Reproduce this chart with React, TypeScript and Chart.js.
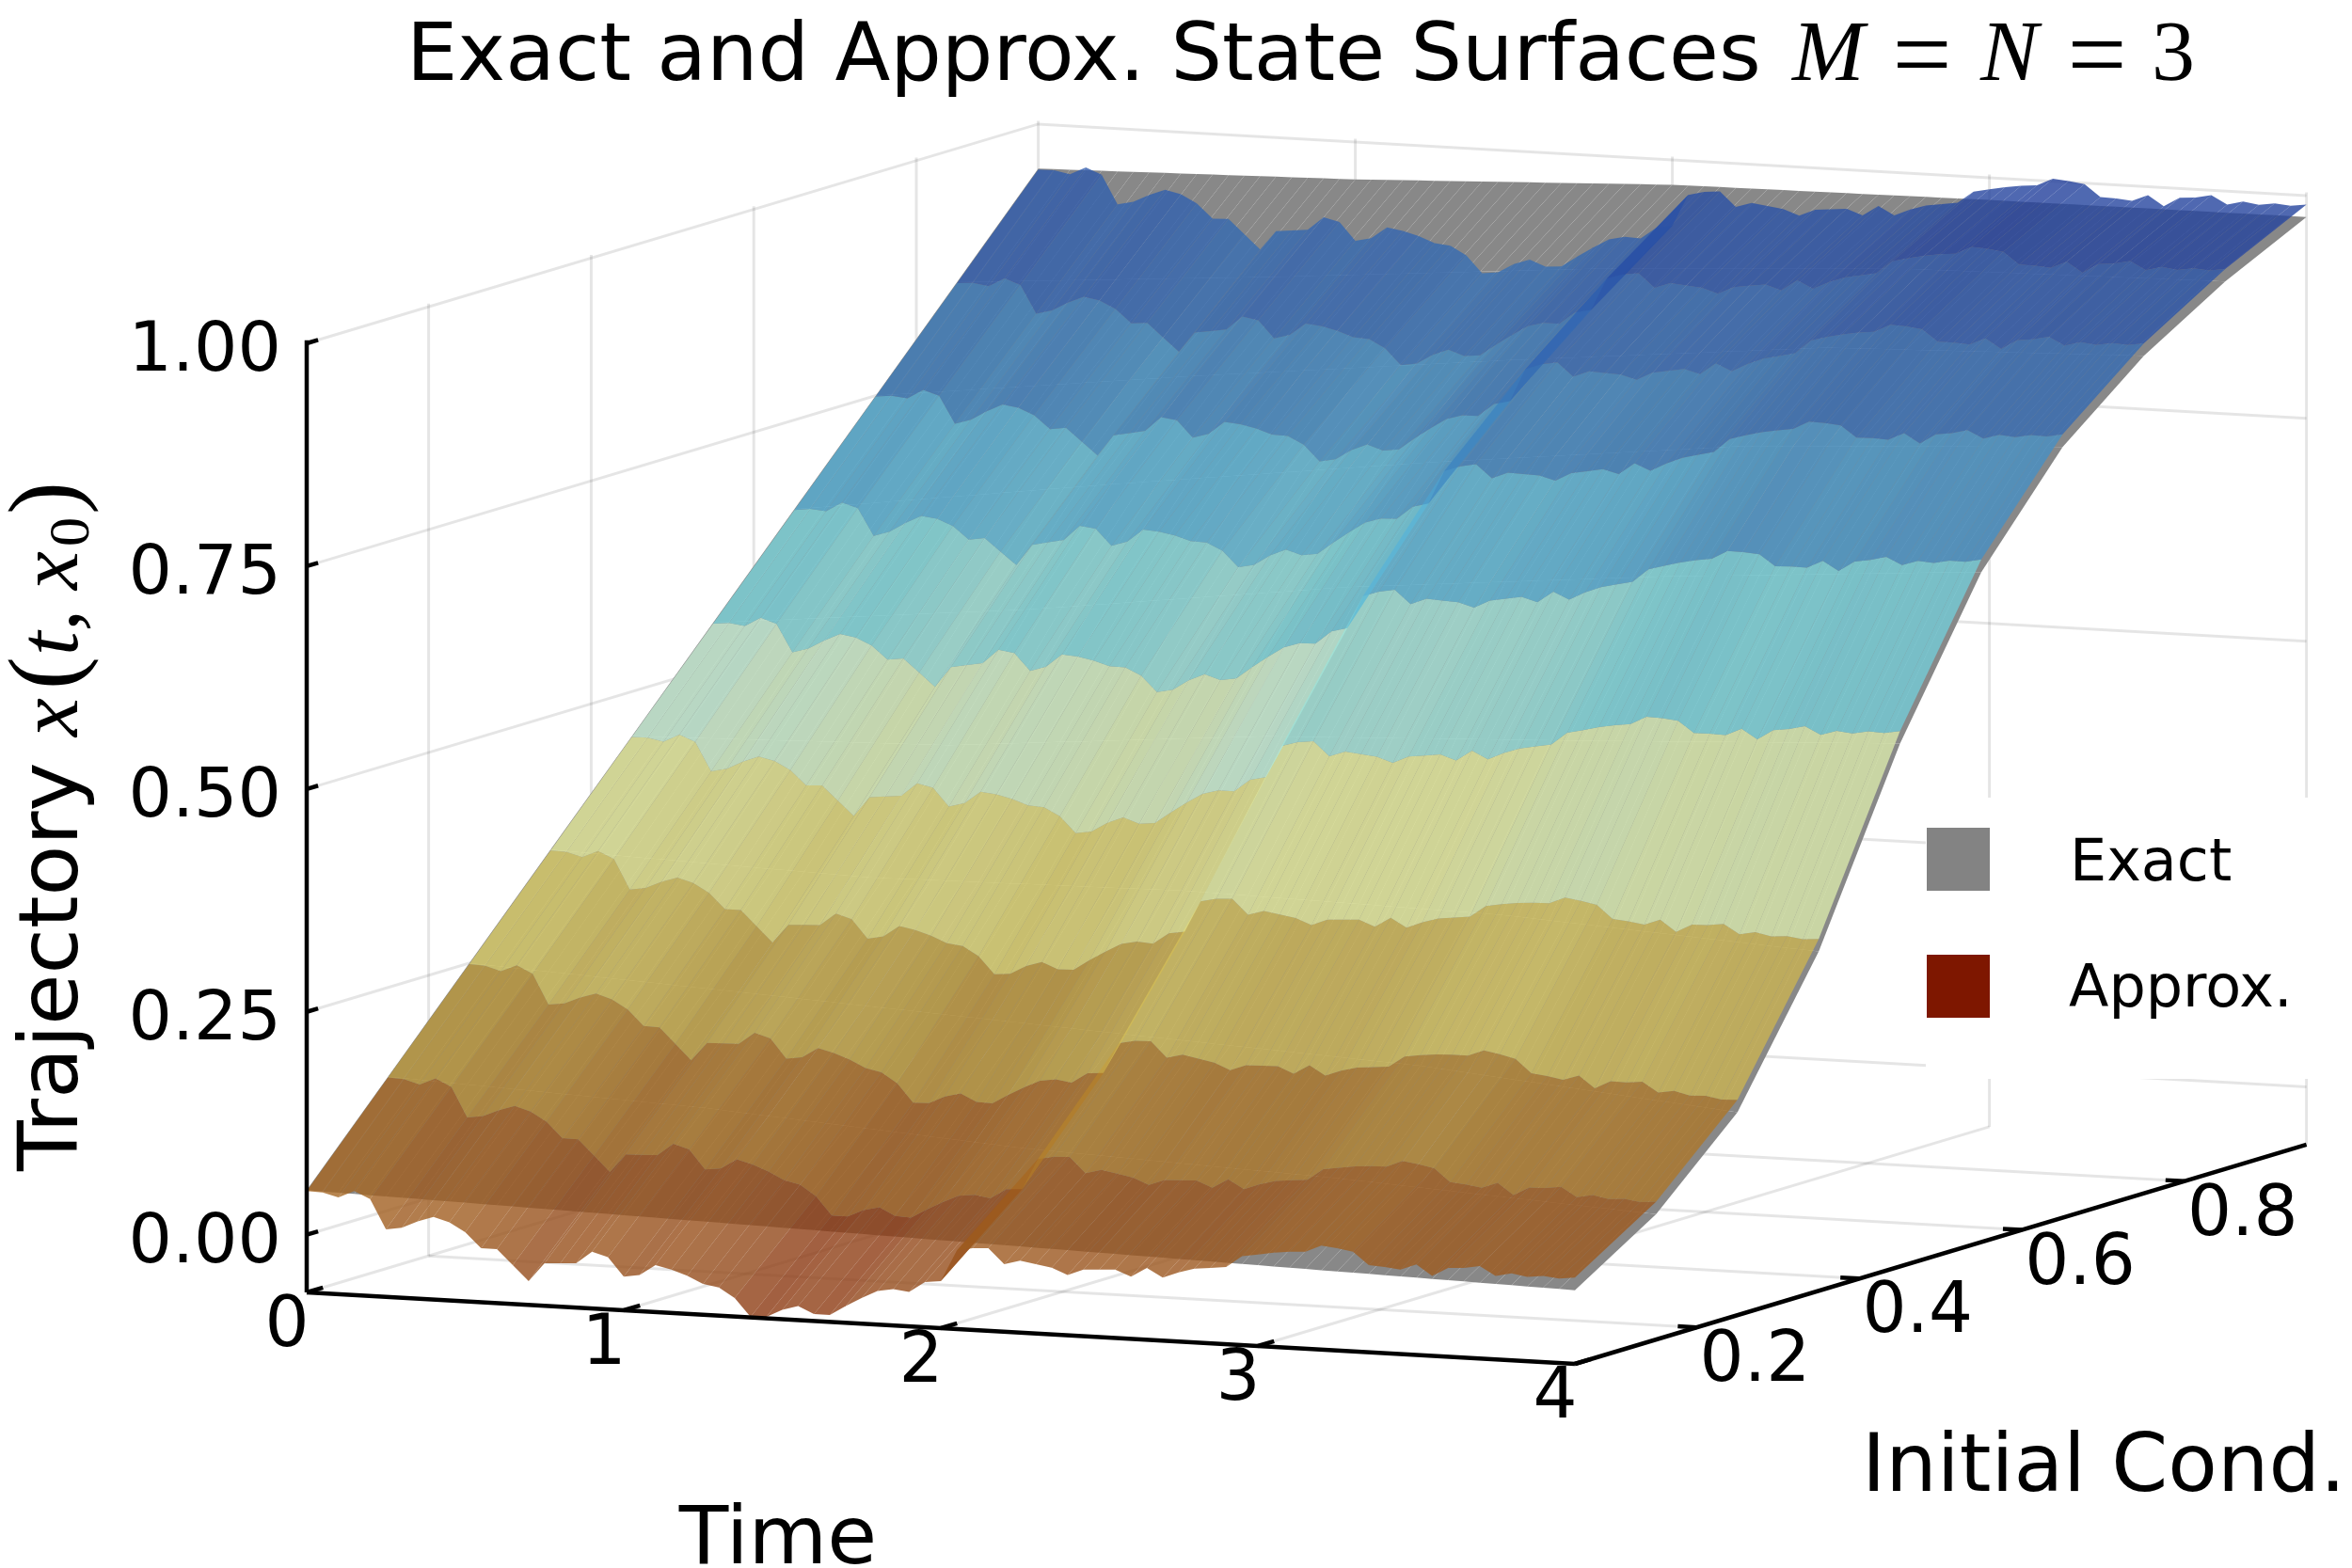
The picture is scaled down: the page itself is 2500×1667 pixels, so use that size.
import { useEffect, useRef } from "react"
import { Chart, registerables } from "chart.js"

Chart.register(...registerables)

// grid of the surfaces
const timeGrid = [
  0, 0.05, 0.1, 0.15, 0.2, 0.25, 0.3, 0.35, 0.4, 0.45, 0.5, 0.55, 0.6, 0.65, 0.7, 0.75, 0.8, 0.85, 0.9, 0.95,
  1, 1.05, 1.1, 1.15, 1.2, 1.25, 1.3, 1.35, 1.4, 1.45, 1.5, 1.55, 1.6, 1.65, 1.7, 1.75, 1.8, 1.85, 1.9, 1.95,
  2, 2.05, 2.1, 2.15, 2.2, 2.25, 2.3, 2.35, 2.4, 2.45, 2.5, 2.55, 2.6, 2.65, 2.7, 2.75, 2.8, 2.85, 2.9, 2.95,
  3, 3.05, 3.1, 3.15, 3.2, 3.25, 3.3, 3.35, 3.4, 3.45, 3.5, 3.55, 3.6, 3.65, 3.7, 3.75, 3.8, 3.85, 3.9, 3.95, 4,
]
const initialConds = [0.05, 0.15, 0.25, 0.35, 0.45, 0.55, 0.65, 0.75, 0.85, 0.95]

// exact state at t = 0, 1, 2, 3, 4 for each initial condition
const exactT0 = [0.05, 0.15, 0.25, 0.35, 0.45, 0.55, 0.65, 0.75, 0.85, 0.95]
const exactT1 = [0.042, 0.135, 0.232, 0.339, 0.46, 0.585, 0.698, 0.792, 0.876, 0.958]
const exactT2 = [0.034, 0.11, 0.213, 0.344, 0.49, 0.63, 0.7425, 0.83, 0.905, 0.972]
const exactT3 = [0.026, 0.096, 0.195, 0.337, 0.505, 0.662, 0.781, 0.864, 0.925, 0.975]
const exactT4 = [0.018, 0.076, 0.163, 0.316, 0.522, 0.687, 0.8, 0.875, 0.931, 0.976]
const exactRows = [exactT0, exactT1, exactT2, exactT3, exactT4]

// approximate state along the front edge (lowest initial condition)
const approxFrontEdge = [
  0.049, 0.0485, 0.044, 0.052, 0.044, 0.011, 0.014, 0.022, 0.028, 0.023, 0.013, -0.004, -0.004, -0.021, -0.038,
  -0.017, -0.016, -0.015, -0.001, -0.006, -0.027, -0.024, -0.012, -0.016, -0.022, -0.03, -0.033, -0.044, -0.064,
  -0.063, -0.054, -0.049, -0.057, -0.057, -0.046, -0.036, -0.027, -0.024, -0.026, -0.014, -0.012,
  0.023, 0.027, 0.028, 0.011, 0.016, 0.013, 0.01, 0.003, 0.01, 0.011, 0.012, 0.005, 0.016, 0.006, 0.013, 0.018,
  0.02, 0.022, 0.035, 0.038, 0.041, 0.043, 0.044, 0.052, 0.05, 0.047, 0.033, 0.032, 0.03, 0.037, 0.025, 0.035,
  0.036, 0.039, 0.029, 0.033, 0.03, 0.032, 0.03, 0.032,
]

const timeTicks = [0, 1, 2, 3, 4]
const condTicks = [0.2, 0.4, 0.6, 0.8]
const stateTicks = [0, 0.25, 0.5, 0.75, 1]
const stateTickLabels = ["0.00", "0.25", "0.50", "0.75", "1.00"]

// colormap of the surface
const colorLevels = [-0.07, 0, 0.1, 0.2, 0.3, 0.4, 0.5, 0.6, 0.7, 0.8, 0.9, 1]
const colorValues = [
  [126, 23, 0], [145, 70, 25], [166, 103, 35], [188, 153, 60], [216, 203, 103], [226, 231, 153],
  [197, 235, 210], [122, 210, 216], [85, 172, 210], [60, 122, 185], [47, 91, 172], [30, 55, 150],
]

const SANS = '"DejaVu Sans"'
const SERIF = '"Liberation Serif"'

const COND_MIN = 0.05
const COND_MAX = 0.95
const STATE_MIN = -0.0647
const STATE_MAX = 1.0035

// fixed orthographic camera, picture units per data unit
function project(t: number, cond: number, state: number) {
  return {
    x: 326 + 337 * t + 864 * (cond - COND_MIN),
    y: 1312.7 + 19 * t - 259 * (cond - COND_MIN) - 947.7 * state,
  }
}

function exactAt(row: number, t: number) {
  const k = Math.min(3, Math.floor(t))
  const f = t - k
  return exactRows[k][row] * (1 - f) + exactRows[k + 1][row] * f
}

function surfaceColor(state: number, alpha: number) {
  let i = 0
  while (i < colorLevels.length - 2 && state > colorLevels[i + 1]) i++
  const f = Math.max(0, Math.min(1, (state - colorLevels[i]) / (colorLevels[i + 1] - colorLevels[i])))
  const c = colorValues[i].map((v, k) => Math.round(v + (colorValues[i + 1][k] - v) * f))
  return `rgba(${c[0]}, ${c[1]}, ${c[2]}, ${alpha})`
}

function lineSet(points: { x: number; y: number }[], color: string, width: number) {
  return {
    data: points,
    showLine: true,
    fill: false,
    borderColor: color,
    borderWidth: width,
    pointRadius: 0,
  }
}

function quadSets(stateAt: (row: number, col: number) => number, colorOf: (state: number) => string) {
  const sets = []
  for (let r = 0; r < initialConds.length - 1; r++) {
    for (let c = 0; c < timeGrid.length - 1; c++) {
      const corners = [
        [r, c],
        [r, c + 1],
        [r + 1, c + 1],
        [r + 1, c],
      ]
      const states = corners.map(([a, b]) => stateAt(a, b))
      sets.push({
        data: corners.map(([a, b], i) => project(timeGrid[b], initialConds[a], states[i])),
        showLine: true,
        fill: "shape",
        backgroundColor: colorOf((states[0] + states[1] + states[2] + states[3]) / 4),
        borderWidth: 0,
        pointRadius: 0,
      })
    }
  }
  return sets
}

function buildDatasets() {
  const grid = "rgba(0, 0, 0, 0.1)"
  const sets: any[] = []

  // walls and floor
  for (const z of stateTicks) {
    sets.push(lineSet([project(0, COND_MIN, z), project(0, COND_MAX, z), project(4, COND_MAX, z)], grid, 3))
  }
  for (const c of [...condTicks, COND_MAX]) {
    sets.push(lineSet([project(0, c, STATE_MIN), project(0, c, STATE_MAX)], grid, 3))
  }
  for (const t of [1, 2, 3, 4]) {
    sets.push(lineSet([project(t, COND_MAX, STATE_MIN), project(t, COND_MAX, STATE_MAX)], grid, 3))
  }
  for (const t of [0, 1, 2, 3]) {
    sets.push(lineSet([project(t, COND_MIN, STATE_MIN), project(t, COND_MAX, STATE_MIN)], grid, 3))
  }
  for (const c of condTicks) {
    sets.push(lineSet([project(0, c, STATE_MIN), project(4, c, STATE_MIN)], grid, 3))
  }

  // exact surface below, approximation on top
  sets.push(...quadSets((r, c) => exactAt(r, timeGrid[c]), () => "rgb(136, 136, 136)"))
  sets.push(
    ...quadSets(
      (r, c) => exactAt(r, timeGrid[c]) + approxFrontEdge[c] - exactAt(0, timeGrid[c]),
      (state) => surfaceColor(state, 0.8),
    ),
  )

  // axes and ticks
  const ink = "#000000"
  sets.push(lineSet([project(0, COND_MIN, STATE_MIN), project(0, COND_MIN, STATE_MAX)], ink, 4.5))
  sets.push(lineSet([project(0, COND_MIN, STATE_MIN), project(4, COND_MIN, STATE_MIN)], ink, 4.5))
  sets.push(lineSet([project(4, COND_MIN, STATE_MIN), project(4, COND_MAX, STATE_MIN)], ink, 4.5))
  for (const z of stateTicks) {
    sets.push(lineSet([project(0, COND_MIN, z), project(0, COND_MIN + 0.014, z)], ink, 4.5))
  }
  for (const t of timeTicks) {
    sets.push(lineSet([project(t, COND_MIN, STATE_MIN), project(t, COND_MIN + 0.02, STATE_MIN)], ink, 4.5))
  }
  for (const c of condTicks) {
    sets.push(lineSet([project(4, c, STATE_MIN), project(3.94, c, STATE_MIN)], ink, 4.5))
  }

  // chart.js paints the first dataset last
  return sets.reverse()
}

const textPlugin = {
  id: "plotText",
  afterDatasetsDraw(chart: Chart) {
    const { ctx, scales } = chart
    const px = (p: { x: number; y: number }) => ({
      x: scales.x.getPixelForValue(p.x),
      y: scales.y.getPixelForValue(p.y),
    })
    const text = (s: string, x: number, y: number, font: string, align: CanvasTextAlign = "left") => {
      ctx.font = font
      ctx.textAlign = align
      ctx.fillText(s, x, y)
    }

    ctx.save()
    ctx.textBaseline = "alphabetic"

    // legend
    ctx.fillStyle = "#ffffff"
    ctx.fillRect(2047, 848, 413, 299)
    ctx.fillStyle = "rgb(131, 131, 131)"
    ctx.fillRect(2048, 880, 67, 67)
    ctx.fillStyle = "rgb(126, 23, 0)"
    ctx.fillRect(2048, 1015, 67, 67)
    ctx.fillStyle = "#000000"
    text("Exact", 2200, 936, `62px ${SANS}`)
    text("Approx.", 2199, 1070, `62px ${SANS}`)

    // tick labels
    stateTicks.forEach((z, i) => {
      const p = px(project(0, COND_MIN, z))
      text(stateTickLabels[i], p.x - 27, p.y + 29, `73px ${SANS}`, "right")
    })
    timeTicks.forEach((t) => {
      const p = px(project(t, COND_MIN, STATE_MIN))
      text(String(t), p.x - 21, p.y + 57, `74px ${SANS}`, "center")
    })
    condTicks.forEach((c) => {
      const p = px(project(4, c, STATE_MIN))
      text(c.toFixed(1), p.x + 3, p.y + 57, `74px ${SANS}`)
    })

    // axis names
    text("Time", 827, 1662, `86px ${SANS}`, "center")
    text("Initial Cond.", 1979, 1585, `86px ${SANS}`)

    // title
    text("Exact and Approx. State Surfaces", 432, 85, `86px ${SANS}`)
    text("M", 1905, 85, `italic 92px ${SERIF}`)
    text("=", 2043, 95, `112px ${SERIF}`, "center")
    text("N", 2105, 85, `italic 92px ${SERIF}`)
    text("=", 2229, 95, `112px ${SERIF}`, "center")
    text("3", 2310, 85, `92px ${SERIF}`, "center")

    // y label reads upwards
    ctx.translate(82, 1245)
    ctx.rotate(-Math.PI / 2)
    text("Trajectory", 0, 0, `88px ${SANS}`)
    const math = `italic 92px ${SERIF}`
    const paren = `105px ${SERIF}`
    text("x", 462, 0, math)
    text("(", 512, 0, paren)
    text("t", 548, 0, math)
    text(",", 574, 0, math)
    text("x", 618, 0, math)
    text("0", 664, 12, `62px ${SERIF}`)
    text(")", 698, 0, paren)

    ctx.restore()
  },
}

export default function App() {
  const chartRef = useRef<HTMLCanvasElement>(null)

  useEffect(() => {
    if (!chartRef.current) return
    document.body.style.margin = "0"

    const chart = new Chart(chartRef.current, {
      type: "scatter",
      data: { datasets: buildDatasets() },
      options: {
        responsive: false,
        animation: false,
        devicePixelRatio: 1,
        events: [],
        layout: { padding: 0 },
        scales: {
          x: { type: "linear", display: false, min: 0, max: 2500 },
          y: { type: "linear", display: false, min: 0, max: 1667, reverse: true },
        },
        plugins: {
          legend: { display: false },
          tooltip: { enabled: false },
          filler: { propagate: false },
        },
      },
      plugins: [textPlugin],
    } as any)

    return () => chart.destroy()
  }, [])

  return (
    <div style={{ width: 2500, height: 1667, background: "#ffffff" }}>
      <canvas ref={chartRef} width={2500} height={1667} style={{ display: "block" }} />
    </div>
  )
}
